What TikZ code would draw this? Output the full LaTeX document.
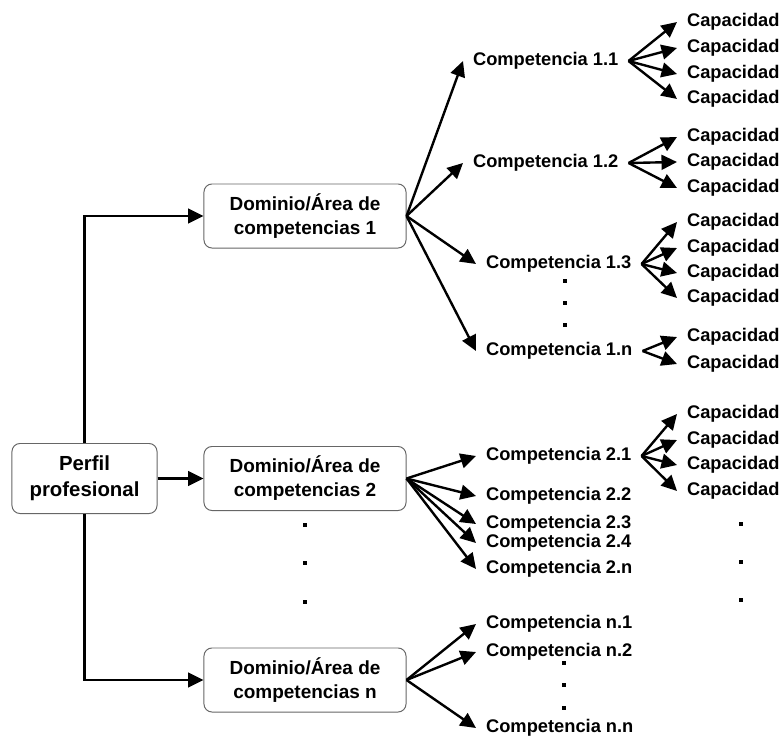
\documentclass[tikz,border=0pt]{standalone}
\usepackage{fontspec}
\setmainfont{Liberation Sans}
\usetikzlibrary{arrows.meta}
\begin{document}
\begin{tikzpicture}[x=0.025cm,y=-0.025cm,
  caja/.style={draw=black!60,line width=0.7pt,rounded corners=0.2cm,align=center,
    font=\bfseries\fontsize{13.5}{17}\selectfont,minimum width=5.05cm,minimum height=1.6cm},
  comp/.style={anchor=west,inner xsep=7pt,inner ysep=1pt,font=\bfseries\fontsize{13}{15}\selectfont},
  flecha/.style={line width=1.7pt,-{Triangle[length=11pt,width=10.5pt]}},
  punto/.style={rectangle,fill=black,inner sep=0pt,minimum size=3.2pt}]
\useasboundingbox (0,0) rectangle (783,736);
\node[caja,minimum width=3.625cm,minimum height=1.75cm,font=\bfseries\fontsize{14.5}{18.5}\selectfont] (perfil) at (84.5,478.5) {Perfil\\profesional};
\node[caja] (dom1) at (305,216) {Dominio/Área de\\competencias 1};
\node[caja] (dom2) at (305,478.5) {Dominio/Área de\\competencias 2};
\node[caja] (domn) at (305,680) {Dominio/Área de\\competencias n};
\draw[flecha] (perfil.north) |- (dom1.west);
\draw[flecha] (perfil.east) -- (dom2.west);
\draw[flecha] (perfil.south) |- (domn.west);
\foreach \y in {525,563,602}
  \node[punto] (pd\y) at (305,\y) {};
\node[comp] (c11) at (463,61) {Competencia 1.1};
\node[comp] (c12) at (463,163) {Competencia 1.2};
\node[comp] (c13) at (476,264) {Competencia 1.3};
\node[comp] (c1n) at (476,351) {Competencia 1.n};
\foreach \c in {c11,c12,c13,c1n}
  \draw[flecha] (dom1.east) -- (\c.west);
\foreach \y in {281,303,325}
  \node[punto] (p1\y) at (565,\y) {};
\node[comp] (c21) at (476,456) {Competencia 2.1};
\node[comp] (c22) at (476,496) {Competencia 2.2};
\node[comp] (c23) at (476,524) {Competencia 2.3};
\node[comp] (c24) at (476,543) {Competencia 2.4};
\node[comp] (c2n) at (476,569) {Competencia 2.n};
\foreach \c in {c21,c22,c23,c24,c2n}
  \draw[flecha] (dom2.east) -- (\c.west);
\node[comp] (cn1) at (476,624) {Competencia n.1};
\node[comp] (cn2) at (476,652) {Competencia n.2};
\node[comp] (cnn) at (476,728) {Competencia n.n};
\foreach \c in {cn1,cn2,cnn}
  \draw[flecha] (domn.east) -- (\c.west);
\foreach \y in {663,685,708}
  \node[punto] (pn\y) at (564,\y) {};
\foreach \y/\p in {22/c11,48/c11,74/c11,99/c11,137/c12,162/c12,188/c12,
    222/c13,248/c13,273/c13,298/c13,337/c1n,364/c1n,414/c21,440/c21,465/c21,491/c21}
{
  \node[comp] (k\y) at (677,\y) {Capacidad};
  \draw[flecha] (\p.east) -- (k\y.west);
}
\foreach \y in {524,562,600}
  \node[punto] (pk\y) at (741,\y) {};
\end{tikzpicture}
\end{document}
